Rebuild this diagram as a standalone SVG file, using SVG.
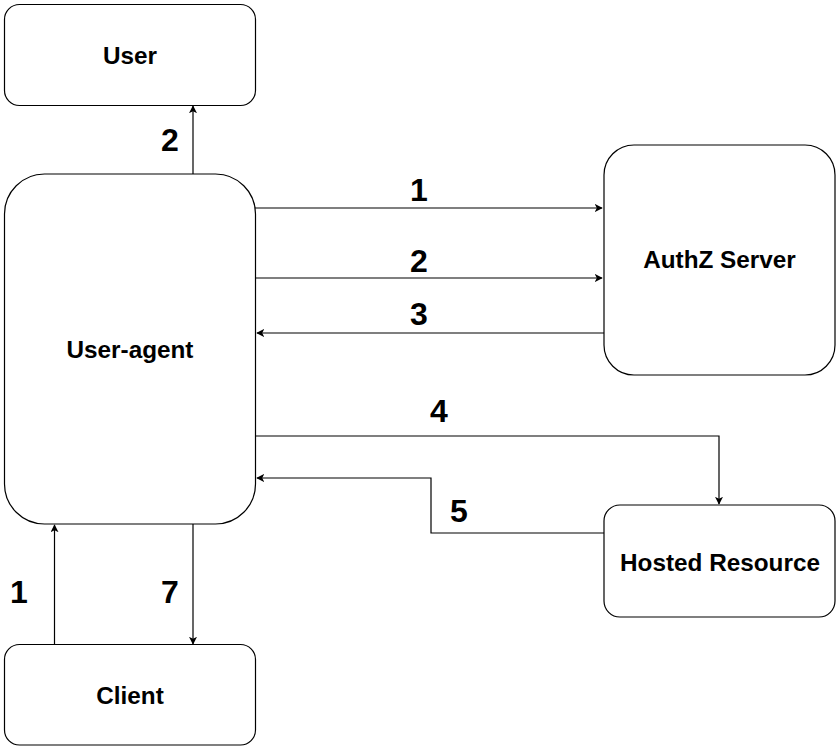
<svg xmlns="http://www.w3.org/2000/svg" width="840" height="753" viewBox="0 0 840 753">
<style>
.box{fill:#fff;stroke:#000;stroke-width:1.2}
.nt{font-family:"Liberation Sans",Arial,sans-serif;font-weight:bold;font-size:24.3px;text-anchor:middle;fill:#000}
.lb{font-family:"Liberation Sans",Arial,sans-serif;font-weight:bold;font-size:32px;text-anchor:middle;fill:#000}
.c{fill:none;stroke:#000;stroke-width:1.2}
</style>
<defs>
<marker id="ah" viewBox="0 0 10 10" refX="9" refY="5" markerWidth="8" markerHeight="8" markerUnits="userSpaceOnUse" orient="auto">
<path d="M0,0 L10,5 L0,10 L2.5,5 Z" fill="#000"/>
</marker>
</defs>
<rect width="840" height="753" fill="#fff"/>
<g id="connectors">
<path class="c" d="M193,174 V106" marker-end="url(#ah)"/>
<path class="c" d="M255,208 H602" marker-end="url(#ah)"/>
<path class="c" d="M255,278 H602" marker-end="url(#ah)"/>
<path class="c" d="M604,333 H257" marker-end="url(#ah)"/>
<path class="c" d="M255,436 H719 V504" marker-end="url(#ah)"/>
<path class="c" d="M604,533 H431 V478 H257" marker-end="url(#ah)"/>
<path class="c" d="M54.5,645 V525" marker-end="url(#ah)"/>
<path class="c" d="M193,524 V644" marker-end="url(#ah)"/>
<text class="lb" x="170" y="151">2</text>
<text class="lb" x="419" y="201">1</text>
<text class="lb" x="419" y="272">2</text>
<text class="lb" x="419" y="325">3</text>
<text class="lb" x="439" y="422">4</text>
<text class="lb" x="179.5" y="470">6</text>
<text class="lb" x="459" y="522">5</text>
<text class="lb" x="19" y="603">1</text>
<text class="lb" x="170" y="603">7</text>
</g>
<g id="user">
<rect class="box" x="4.5" y="4.5" width="251" height="101" rx="15"/>
<text class="nt" x="130" y="64">User</text>
</g>
<g id="user-agent">
<rect class="box" x="4.5" y="174" width="251" height="350" rx="40"/>
<text class="nt" x="130" y="358">User-agent</text>
</g>
<g id="authz-server">
<rect class="box" x="604" y="145" width="231" height="230" rx="30"/>
<text class="nt" x="719.5" y="268">AuthZ Server</text>
</g>
<g id="hosted-resource">
<rect class="box" x="604" y="505" width="231" height="112" rx="16"/>
<text class="nt" x="720" y="570.5">Hosted Resource</text>
</g>
<g id="client">
<rect class="box" x="4.5" y="644.5" width="251" height="100.5" rx="15"/>
<text class="nt" x="130" y="704">Client</text>
</g>
</svg>
